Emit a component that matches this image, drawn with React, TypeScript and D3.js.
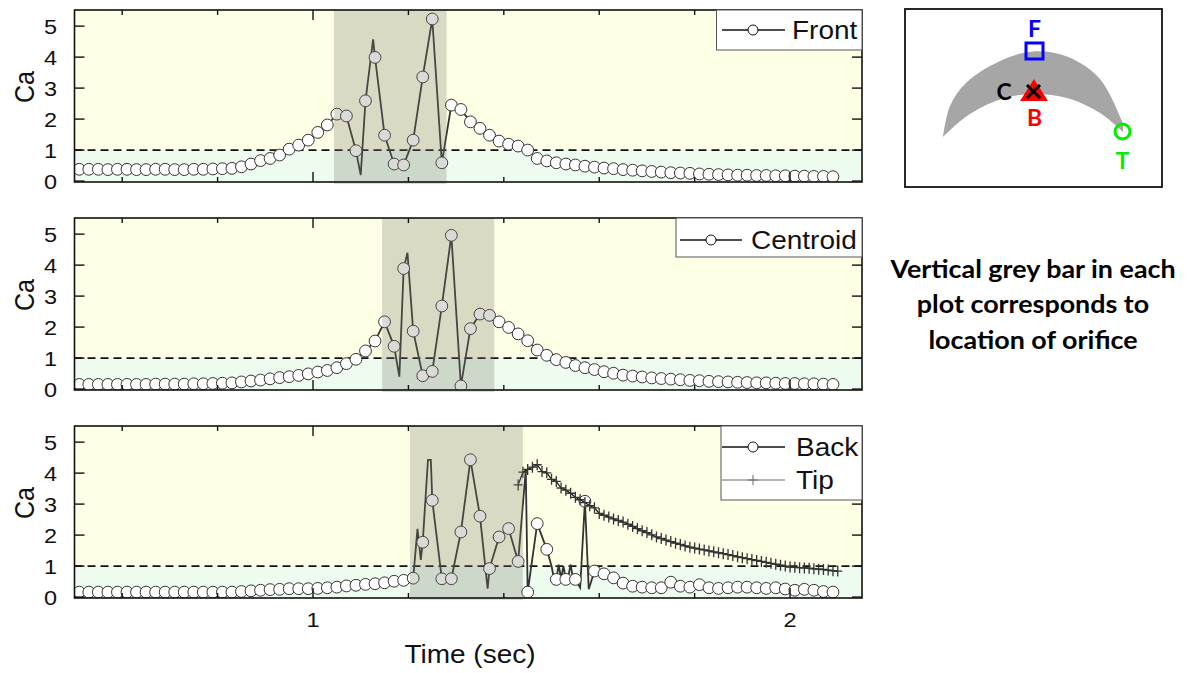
import * as React from "react";
import * as d3 from "d3";

// sample grid of the circle markers (sec)
const T0 = 0.51;
const DT = 0.02;

const frontValues = [
  0.38, 0.38, 0.38, 0.37, 0.38, 0.38, 0.37, 0.37, 0.38, 0.38, 0.37, 0.37, 0.38, 0.38, 0.39, 0.40,
  0.41, 0.46, 0.55, 0.66, 0.73, 0.84, 1.03, 1.16, 1.32, 1.57, 1.81, 2.16, 2.10, 0.98,
  2.59, 3.99, 1.48, 0.55, 0.52, 1.32, 3.36, 5.23, 0.59, 2.45, 2.31, 1.91, 1.70, 1.48,
  1.29, 1.19, 1.13, 1.0, 0.73, 0.65, 0.59, 0.55, 0.52, 0.48, 0.45, 0.42, 0.40, 0.37,
  0.35, 0.33, 0.31, 0.29, 0.27, 0.26, 0.25, 0.23, 0.22, 0.21, 0.20, 0.19, 0.19, 0.18,
  0.18, 0.17, 0.17, 0.16, 0.16, 0.15, 0.15, 0.14,
];
const centroidValues = [
  0.15, 0.15, 0.15, 0.15, 0.15, 0.15, 0.15, 0.15, 0.16, 0.16, 0.16, 0.16, 0.17, 0.17, 0.18, 0.19,
  0.20, 0.23, 0.26, 0.29, 0.33, 0.37, 0.40, 0.44, 0.49, 0.55, 0.60, 0.69, 0.82, 0.96,
  1.23, 1.55, 2.17, 1.38, 3.89, 1.87, 0.43, 0.57, 2.68, 4.96, 0.10, 1.95, 2.42, 2.38,
  2.17, 1.99, 1.78, 1.56, 1.26, 1.09, 0.95, 0.86, 0.76, 0.69, 0.63, 0.56, 0.51, 0.45,
  0.42, 0.39, 0.36, 0.34, 0.32, 0.30, 0.28, 0.27, 0.25, 0.24, 0.23, 0.22, 0.21, 0.20,
  0.20, 0.19, 0.18, 0.18, 0.17, 0.17, 0.16, 0.15,
];
const backValues = [
  0.16, 0.16, 0.16, 0.16, 0.16, 0.16, 0.16, 0.16, 0.16, 0.16, 0.16, 0.16, 0.16, 0.16, 0.16, 0.16,
  0.16, 0.18, 0.20, 0.22, 0.24, 0.25, 0.27, 0.27, 0.27, 0.28, 0.30, 0.32, 0.36, 0.38,
  0.41, 0.43, 0.46, 0.51, 0.54, 0.61, 1.77, 3.12, 0.59, 0.59, 2.10, 4.43, 2.61, 0.92,
  1.94, 2.21, 1.15, 0.16, 2.37, 1.54, 0.57, 0.57, 0.57, 3.09, 0.84, 0.75, 0.62, 0.45,
  0.35, 0.32, 0.30, 0.30, 0.48, 0.35, 0.32, 0.40, 0.30, 0.28, 0.30, 0.32, 0.32, 0.30,
  0.28, 0.30, 0.26, 0.22, 0.25, 0.22, 0.18, 0.16,
];

// extra line-only samples (the curve is drawn from denser data than the markers)
const frontLineExtra: [number, number][] = [[1.1, 0.19], [1.126, 4.57]];
const centroidLineExtra: [number, number][] = [[1.181, 0.4], [1.198, 4.4]];
const backLineExtra: [number, number][] = [
  [1.219, 2.2], [1.226, 1.2], [1.241, 4.43], [1.247, 4.43], [1.366, 0.27], [1.446, 4.1],
  [1.5, 1.0], [1.505, 0.6], [1.515, 1.05], [1.52, 0.6], [1.525, 1.0], [1.535, 0.65],
  [1.54, 1.05], [1.545, 0.6], [1.56, 0.3], [1.578, 0.25],
];

// tip series, 0.01 s spacing from 1.43 s
const TIP_T0 = 1.43;
const TIP_DT = 0.01;
const tipValues = [
  3.62, 4.03, 4.12, 4.19, 4.27, 4.05, 4.01, 3.8, 3.73, 3.52, 3.45, 3.35, 3.22, 3.14, 3.05,
  2.95, 2.88, 2.7, 2.64, 2.58, 2.52, 2.47, 2.42, 2.35, 2.28, 2.21, 2.14, 2.08, 2.01, 1.94,
  1.89, 1.84, 1.79, 1.74, 1.7, 1.65, 1.61, 1.58, 1.55, 1.52, 1.49, 1.46, 1.43, 1.4, 1.37,
  1.34, 1.3, 1.27, 1.24, 1.21, 1.18, 1.15, 1.12, 1.09, 1.06, 1.03, 1.0, 0.97, 0.96, 0.95,
  0.94, 0.93, 0.91, 0.9, 0.89, 0.87, 0.85, 0.84,
];

const orificeBars: [number, number][] = [[1.044, 1.28], [1.145, 1.38], [1.203, 1.44]];
const seriesNames = ["Front", "Centroid", "Back"];
const xMinorTicks = [0.6, 0.8, 1.2, 1.4, 1.6, 1.8];
const xMajorTicks = [1, 2];
const yTicks = [0, 1, 2, 3, 4, 5];

// wing cross-section sketch in the inset (screen px)
const crescentOuter: [number, number][] = [
  [943, 137], [950, 106], [966, 83], [1000, 61], [1033, 51.5], [1067, 56.5], [1100, 79], [1123, 124],
];
const crescentInner: [number, number][] = [
  [1123, 132], [1100, 113], [1067, 98], [1033, 94], [1000, 99.5], [967, 116], [943, 137],
];

const W = 1188;
const H = 673;
const LEFT = 74.5;
const RIGHT = 862;
const PANEL_TOPS = [10, 218, 426];
const PANEL_H = 172;
const SANS = "'Liberation Sans', Arial, sans-serif";
const BOLD = "Lato, 'Open Sans', sans-serif";
const LINE = "#333";
const SX = 1.12; // the source picture is stretched sideways

const x = d3.scaleLinear().domain([0.5, 2.15]).range([LEFT, 861.6]);

const SText = ({ x: tx, y: ty, size, anchor = "start", children, rotate = false, ...rest }: any) => (
  <text
    transform={
      rotate
        ? `translate(${tx},${ty}) rotate(-90) scale(1,${SX})`
        : `translate(${tx},${ty}) scale(${SX},1)`
    }
    textAnchor={anchor}
    fontSize={size}
    fontFamily={SANS}
    fill="#111"
    {...rest}
  >
    {children}
  </text>
);

const Panel = ({ idx }: { idx: number }) => {
  const top = PANEL_TOPS[idx];
  const bottom = top + PANEL_H;
  const y = d3.scaleLinear().domain([-0.03, 5.52]).range([bottom, top]);
  const values = [frontValues, centroidValues, backValues][idx];
  const extra = [frontLineExtra, centroidLineExtra, backLineExtra][idx];
  const pts: [number, number][] = values.map((v, i) => [T0 + DT * i, v]);
  const linePts = [...pts, ...extra].sort((a, b) => a[0] - b[0]);
  const line = d3
    .line<[number, number]>()
    .x((d) => x(d[0]))
    .y((d) => y(d[1]));
  const [b0, b1] = orificeBars[idx];
  const clipId = `clip${idx}`;
  const tipPts: [number, number][] = tipValues.map((v, i) => [TIP_T0 + TIP_DT * i, v]);
  const name = seriesNames[idx];

  return (
    <g>
      <defs>
        <clipPath id={clipId}>
          <rect x={LEFT} y={top} width={RIGHT - LEFT} height={PANEL_H} />
        </clipPath>
      </defs>
      <rect x={LEFT} y={top} width={RIGHT - LEFT} height={y(1) - top} fill="#FFFFE6" />
      <rect x={LEFT} y={y(1)} width={RIGHT - LEFT} height={bottom - y(1)} fill="#EEFCEF" />
      <g clipPath={`url(#${clipId})`}>
        <line x1={LEFT} x2={RIGHT} y1={y(1)} y2={y(1)} stroke="#111" strokeWidth={1.6} strokeDasharray="8 5" />
        <path d={line(linePts) ?? ""} fill="none" stroke={LINE} strokeWidth={1.8} />
        {pts.map((d, i) => (
          <circle key={i} cx={x(d[0])} cy={y(d[1])} r={5.9} fill="#fff" stroke={LINE} strokeWidth={1} />
        ))}
        {idx === 2 && (
          <g>
            <path d={line(tipPts) ?? ""} fill="none" stroke="#111" strokeWidth={1.2} />
            {tipPts.map((d, i) => (
              <path
                key={i}
                d={`M${x(d[0]) - 4.5},${y(d[1])}h9M${x(d[0])},${y(d[1]) - 5.5}v11`}
                stroke="#333"
                strokeWidth={1.3}
              />
            ))}
          </g>
        )}
      </g>
      <rect x={x(b0)} y={top} width={x(b1) - x(b0)} height={PANEL_H + 2} fill="#7a7a6a" opacity={0.28} />
      <rect x={LEFT} y={top} width={RIGHT - LEFT} height={PANEL_H} fill="none" stroke="#111" strokeWidth={1.6} />
      {xMinorTicks.map((t) => (
        <g key={t}>
          <line x1={x(t)} x2={x(t)} y1={top} y2={top + 5} stroke="#111" strokeWidth={1.4} />
          <line x1={x(t)} x2={x(t)} y1={bottom} y2={bottom - 5} stroke="#111" strokeWidth={1.4} />
        </g>
      ))}
      {xMajorTicks.map((t) => (
        <g key={t}>
          <line x1={x(t)} x2={x(t)} y1={top} y2={top + 10} stroke="#111" strokeWidth={1.4} />
          <line x1={x(t)} x2={x(t)} y1={bottom} y2={bottom - 10} stroke="#111" strokeWidth={1.4} />
          {idx === 2 && (
            <SText x={x(t)} y={bottom + 29} size={21} anchor="middle">
              {t}
            </SText>
          )}
        </g>
      ))}
      {yTicks.map((v) => (
        <g key={v}>
          <line x1={LEFT} x2={LEFT + 10} y1={y(v)} y2={y(v)} stroke="#111" strokeWidth={1.4} />
          <line x1={RIGHT} x2={RIGHT - 10} y1={y(v)} y2={y(v)} stroke="#111" strokeWidth={1.4} />
          <SText x={57} y={y(v) + 7.5} size={21} anchor="end">
            {v}
          </SText>
        </g>
      ))}
      <SText x={34} y={top + PANEL_H / 2 - 9} size={25} anchor="middle" rotate>
        Ca
      </SText>
      {/* legend */}
      {idx === 0 && (
        <g>
          <rect x={716.5} y={top} width={RIGHT - 716.5} height={40} fill="#fff" stroke="#555" strokeWidth={1} />
          <line x1={722} x2={785} y1={top + 20} y2={top + 20} stroke="#111" strokeWidth={1.5} />
          <circle cx={753} cy={top + 20} r={5} fill="#fff" stroke="#111" />
          <SText x={792} y={top + 29} size={25}>{name}</SText>
        </g>
      )}
      {idx === 1 && (
        <g>
          <rect x={676} y={top} width={RIGHT - 676} height={39} fill="#fff" stroke="#555" strokeWidth={1} />
          <line x1={680} x2={742} y1={top + 22} y2={top + 22} stroke="#111" strokeWidth={1.5} />
          <circle cx={711} cy={top + 22} r={5} fill="#fff" stroke="#111" />
          <SText x={751} y={top + 31} size={25}>{name}</SText>
        </g>
      )}
      {idx === 2 && (
        <g>
          <rect x={721} y={top} width={RIGHT - 721} height={74} fill="#fff" stroke="#555" strokeWidth={1} />
          <line x1={722} x2={785} y1={top + 21} y2={top + 21} stroke="#111" strokeWidth={1.5} />
          <circle cx={753} cy={top + 21} r={5} fill="#fff" stroke="#111" />
          <SText x={796} y={top + 30} size={25}>{name}</SText>
          <line x1={722} x2={785} y1={top + 54} y2={top + 54} stroke="#666" strokeWidth={1} />
          <path d={`M${748.5},${top + 54}h9M753,${top + 49}v10`} stroke="#666" strokeWidth={1} />
          <SText x={796} y={top + 63} size={25}>Tip</SText>
        </g>
      )}
    </g>
  );
};

const crescent = d3.line().curve(d3.curveCatmullRom);

const Inset = () => (
  <g>
    <rect x={905} y={9} width={257} height={178} fill="#fff" stroke="#111" strokeWidth={1.8} />
    <path d={`${crescent(crescentOuter)}L${crescent(crescentInner)?.slice(1)}Z`} fill="#a6a6a6" />
    <rect x={1026} y={43} width={17} height={16} fill="none" stroke="#0000ff" strokeWidth={3} />
    <g fontSize={23} fontWeight="bold" fontFamily={BOLD} textAnchor="middle">
      <text x={1034.5} y={37} fill="#0000ff">F</text>
      <text x={1004} y={100} fill="#000">C</text>
      <text x={1034.5} y={126} fill="#ff0000">B</text>
      <text x={1122.5} y={169} fill="#00ee00">T</text>
    </g>
    <path d="M1034,79 L1048,101 L1020,101 Z" fill="#ff0000" />
    <path d="M1027,85 L1040,98 M1040,85 L1027,98" stroke="#000" strokeWidth={3} />
    <circle cx={1122.5} cy={131.5} r={7.5} fill="none" stroke="#00ee00" strokeWidth={3} />
  </g>
);

const App = () => (
  <svg
    width={W}
    height={H}
    viewBox={`0 0 ${W} ${H}`}
    style={{ position: "absolute", left: 0, top: 0, background: "#fff" }}
  >
    {[0, 1, 2].map((i) => (
      <Panel key={i} idx={i} />
    ))}
    <SText x={470} y={663} size={25} anchor="middle">
      Time (sec)
    </SText>
    <Inset />
    <g fontFamily={BOLD} fontWeight="bold" fontSize={24} fill="#000" textAnchor="middle">
      <text transform={`translate(1033,278) scale(${SX},1)`}>Vertical grey bar in each</text>
      <text transform={`translate(1033,313) scale(${SX},1)`}>plot corresponds to</text>
      <text transform={`translate(1033,349) scale(${SX},1)`}>location of orifice</text>
    </g>
  </svg>
);

export default App;
